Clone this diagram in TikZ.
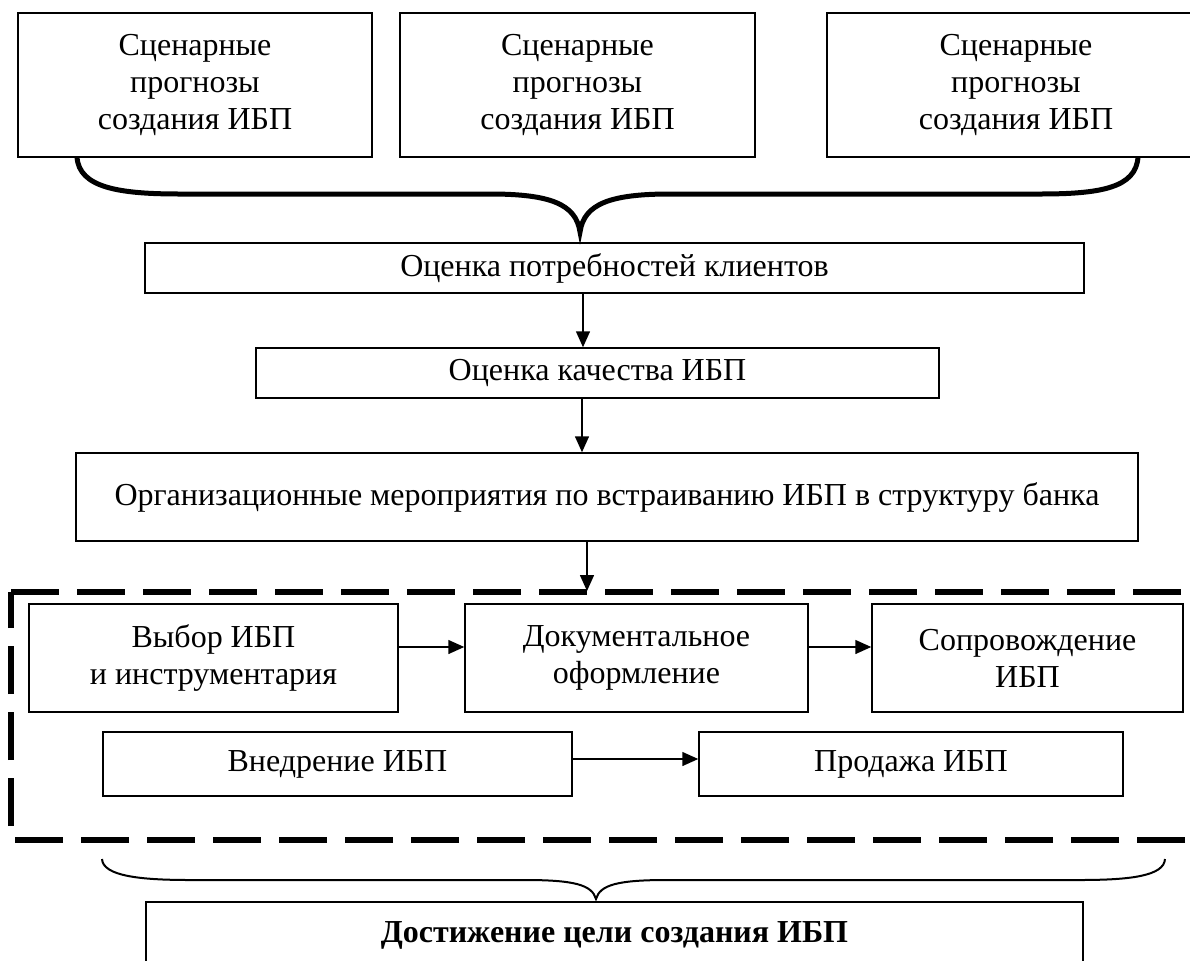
\documentclass[tikz,border=0pt]{standalone}
\usepackage{fontspec}
\setmainfont{Liberation Serif}
\usepackage{tikz}
\usetikzlibrary{arrows.meta,positioning}
\tikzstyle{block}=[rectangle,draw=black,line width=0.75pt,inner sep=0pt,align=center,font=\fontsize{16}{18.6}\selectfont]
\tikzstyle{edge} = [draw,line width=0.75pt,-{Triangle[length=8pt,width=7pt]}]
\tikzstyle{bigbrace} = [draw,line width=2.5pt]
\tikzstyle{smallbrace} = [draw,line width=1pt]
\tikzstyle{stagebox} = [draw,line width=2.6pt,dash pattern=on 24pt off 9pt]

\begin{document}
\begin{tikzpicture}[x=0.5pt,y=-0.5pt]
    \useasboundingbox (0,0) rectangle (1190,960);
    % Scenario forecasts on top
    \foreach \pos/\name/\w in {{(195,85)/A1/177}, {(577.5,85)/A2/177.5}, {(1016,85)/A3/189}}
        \node[block, minimum width=\w pt, minimum height=72pt] (\name) at \pos {Сценарные\\прогнозы\\создания ИБП};

    % The chain of assessments
    \foreach \pos/\name/\w/\h/\txt in {{(614.5,268)/B/469.5/25/{Оценка потребностей клиентов}},
                                      {(597.5,373)/C/341.5/25/{Оценка качества ИБП}},
                                      {(607,497)/D/531/44/{Организационные мероприятия по встраиванию ИБП в структуру банка}}}
        \node[block, minimum width=\w pt, minimum height=\h pt] (\name) at \pos {\txt};

    % Steps inside the dashed frame
    \foreach \pos/\name/\w/\h/\txt in {{(213.5,658)/E1/184.5/54/{Выбор ИБП\\и инструментария}},
                                      {(636.5,658)/E2/171.5/54/{Документальное\\оформление}},
                                      {(1027.5,658)/E3/155.5/54/{Сопровождение\\ИБП}},
                                      {(337.5,764)/F1/234.5/32/{Внедрение ИБП}},
                                      {(911,764)/F2/212/32/{Продажа ИБП}}}
        \node[block, minimum width=\w pt, minimum height=\h pt] (\name) at \pos {\txt};

    \node[block, minimum width=468.5pt, minimum height=33pt] (G) at (614.5,935) {\textbf{Достижение цели создания ИБП}};

    % Dashed frame
    \coordinate (stageNW) at (11,592);
    \coordinate (stageSE) at (1200,840);
    \coordinate (stagetop) at (587,591);
    \draw[stagebox] (stageNW) -- (stageNW -| stageSE) -- (stageSE) -- (stageNW |- stageSE) -- cycle;

    % Braces
    \path[bigbrace] (77,157) .. controls (79,188) and (120,194) .. (180,194) -- (490,194)
        .. controls (550,194) and (576,204) .. (580,232) .. controls (584,204) and (610,194) .. (670,194)
        -- (1040,194) .. controls (1100,194) and (1136,188) .. (1138,157);
    \path[smallbrace] (102,859) .. controls (103,876) and (140,880) .. (190,880) -- (525,880)
        .. controls (575,880) and (592,885) .. (596,899) .. controls (600,885) and (617,880) .. (667,880)
        -- (1080,880) .. controls (1130,880) and (1164,876) .. (1165,859);

    % Connect blocks with arrows
    \path[edge] (B.south -| 583,0) -- (C.north -| 583,0);
    \path[edge] (C.south -| 582,0) -- (D.north -| 582,0);
    \path[edge] (D.south -| stagetop) -- (stagetop);
    \foreach \source/\dest in {E1/E2, E2/E3}
        \path[edge] ([yshift=5.5pt]\source.east) -- ([yshift=5.5pt]\dest.west);
    \path[edge] ([yshift=2.5pt]F1.east) -- ([yshift=2.5pt]F2.west);
\end{tikzpicture}
\end{document}
